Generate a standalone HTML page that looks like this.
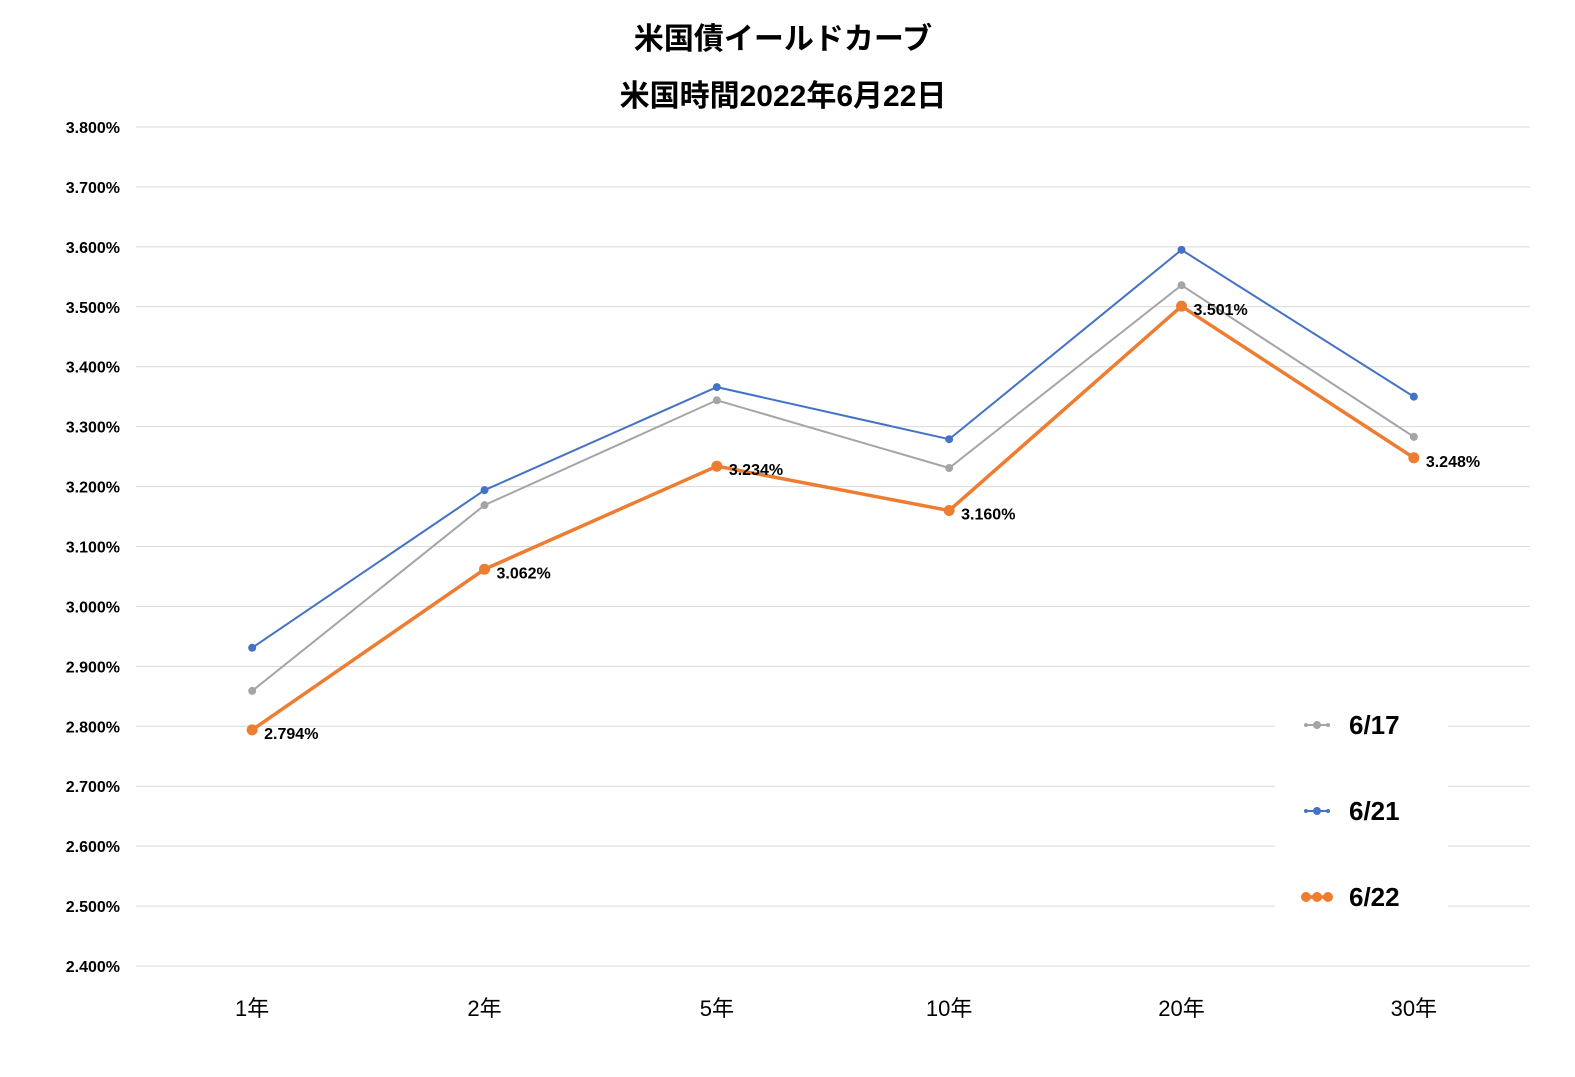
<!DOCTYPE html>
<html><head><meta charset="utf-8"><style>
body{margin:0;background:#fff}
svg text{font-family:"Liberation Sans","Noto Sans CJK JP",sans-serif}
</style></head><body>
<svg id="chart" width="1575" height="1072" xmlns="http://www.w3.org/2000/svg">
<rect width="1575" height="1072" fill="#fff"/>
<text x="783" y="49" text-anchor="middle" font-size="30" font-weight="bold">米国債イールドカーブ</text>
<text x="783" y="106" text-anchor="middle" font-size="30" font-weight="bold">米国時間2022年6月22日</text>
<g id="grid"></g><g id="series"></g><g id="labels"></g>
<g>
<rect x="1275" y="700" width="173" height="232" fill="#fff"/>
<g>
<line x1="1305" y1="725" x2="1330" y2="725" stroke="#a5a5a5" stroke-width="2"/><circle cx="1317" cy="725" r="4" fill="#a5a5a5"/><circle cx="1306" cy="725" r="2" fill="#a5a5a5"/><circle cx="1328" cy="725" r="2" fill="#a5a5a5"/>
<text x="1349" y="734" font-size="26" font-weight="bold">6/17</text></g>
<g>
<line x1="1305" y1="811" x2="1330" y2="811" stroke="#4472c4" stroke-width="2"/><circle cx="1317" cy="811" r="4" fill="#4472c4"/><circle cx="1306" cy="811" r="2" fill="#4472c4"/><circle cx="1328" cy="811" r="2" fill="#4472c4"/>
<text x="1349" y="820" font-size="26" font-weight="bold">6/21</text></g>
<g>
<line x1="1303" y1="897" x2="1331" y2="897" stroke="#ed7d31" stroke-width="3.5"/><circle cx="1317" cy="897" r="5" fill="#ed7d31"/><circle cx="1306" cy="897" r="5" fill="#ed7d31"/><circle cx="1328" cy="897" r="5" fill="#ed7d31"/>
<text x="1349" y="906" font-size="26" font-weight="bold">6/22</text></g>
</g>
</svg>
<script>
const categories=["1年","2年","5年","10年","20年","30年"];
const s617=[2.859,3.169,3.344,3.231,3.536,3.283];
const s621=[2.931,3.194,3.366,3.279,3.595,3.350];
const s622=[2.794,3.062,3.234,3.160,3.501,3.248];
const yTicks=[2.4,2.5,2.6,2.7,2.8,2.9,3.0,3.1,3.2,3.3,3.4,3.5,3.6,3.7,3.8];
const NS="http://www.w3.org/2000/svg";
const y=v=>966-(v-2.4)/1.4*839;
const x=i=>136+(1530-136)/6*(i+0.5);
function mk(t,a,p){const e=document.createElementNS(NS,t);for(const k in a)e.setAttribute(k,a[k]);p.appendChild(e);return e;}
const grid=document.getElementById('grid'),ser=document.getElementById('series'),lab=document.getElementById('labels');
yTicks.forEach(v=>{
 const l=mk('line',{x1:136,x2:1530,y1:y(v),y2:y(v),stroke:'#d9d9d9','stroke-width':1},grid);
 
 
 const t=mk('text',{x:120,y:y(v)+6,'text-anchor':'end','font-size':16,'font-weight':'bold'},grid);
 t.textContent=v.toFixed(3)+'%';
 
 
});
categories.forEach((c,i)=>{
 const t=mk('text',{x:x(i),y:1016,'text-anchor':'middle','font-size':22},grid);
 t.textContent=c;
 
 
});
function series(vals,color,w,r,name){
 const p=mk('polyline',{points:vals.map((v,i)=>x(i)+','+y(v)).join(' '),fill:'none',stroke:color,'stroke-width':w},ser);
 
 
 vals.forEach((v,i)=>{
  const c=mk('circle',{cx:x(i),cy:y(v),r:r,fill:color},ser);
  
  
 });
}
series(s617,'#a5a5a5',2,4,'series-617');
series(s621,'#4472c4',2,4,'series-621');
series(s622,'#ed7d31',3.5,5.5,'series-622');
s622.forEach((v,i)=>{
 const t=mk('text',{x:x(i)+12,y:y(v)+9,'font-size':16,'font-weight':'bold'},lab);
 t.textContent=v.toFixed(3)+'%';
 
 
});
</script>
</body></html>
